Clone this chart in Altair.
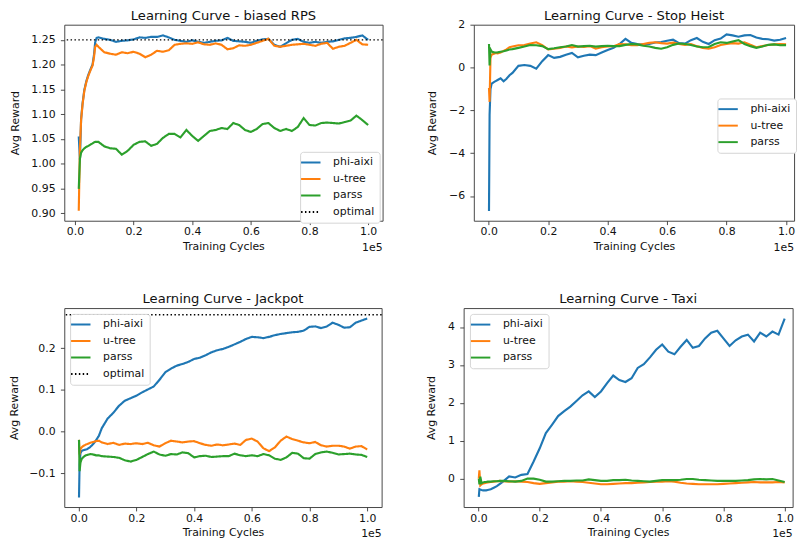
import altair as alt
import pandas as pd

FONT = "DejaVu Sans"
SERIES = ["phi-aixi", "u-tree", "parss"]
COLORS = ["#1f77b4", "#ff7f0e", "#2ca02c"]

X_EARLY_RPS = [1300, 1700, 2100, 2600, 3200, 3900, 4600, 5400, 6000, 6500, 6900, 7400]
X_EARLY = [100, 300, 600, 1000, 1500, 2000, 2500, 3000, 4000, 5000, 6000, 7000]
X_MAIN = [8000, 10000, 12000, 14000, 16000, 18000, 20000, 22000, 24000, 26000,
          28000, 30000, 32000, 34000, 36000, 38000, 40000, 42000, 44000, 46000,
          48000, 50000, 52000, 54000, 56000, 58000, 60000, 62000, 64000, 66000,
          68000, 70000, 72000, 74000, 76000, 78000, 80000, 82000, 84000, 86000,
          88000, 90000, 92000, 94000, 96000, 98000, 100000]
X_TICKS = [0, 20000, 40000, 60000, 80000, 100000]

RPS_PHI = [1.055, 1.008, 1.09, 1.122, 1.149, 1.167, 1.18, 1.192, 1.2, 1.22, 1.245, 1.254,
           1.255, 1.252, 1.250, 1.246, 1.248, 1.249, 1.251, 1.255, 1.254, 1.256,
           1.256, 1.259, 1.255, 1.250, 1.248, 1.246, 1.249, 1.246, 1.244, 1.246,
           1.248, 1.249, 1.254, 1.248, 1.247, 1.246, 1.244, 1.248, 1.251, 1.252,
           1.240, 1.236, 1.243, 1.250, 1.252, 1.246, 1.244, 1.246, 1.244, 1.246,
           1.247, 1.250, 1.253, 1.254, 1.256, 1.259, 1.250]
RPS_UTREE = [0.905, 1.03, 1.088, 1.12, 1.147, 1.165, 1.178, 1.19, 1.198, 1.215, 1.236, 1.240,
             1.236, 1.225, 1.222, 1.220, 1.225, 1.223, 1.226, 1.222, 1.215, 1.220,
             1.228, 1.226, 1.229, 1.240, 1.242, 1.243, 1.242, 1.245, 1.241, 1.240,
             1.243, 1.240, 1.231, 1.233, 1.239, 1.238, 1.240, 1.244, 1.248, 1.252,
             1.238, 1.236, 1.238, 1.240, 1.241, 1.242, 1.240, 1.238, 1.242, 1.244,
             1.232, 1.236, 1.238, 1.244, 1.250, 1.241, 1.240]
RPS_PARSS = [0.949, 1.01, 1.022, 1.027, 1.031, 1.034, 1.036, 1.039, 1.041, 1.043, 1.044, 1.044,
             1.044, 1.035, 1.031, 1.030, 1.018, 1.026, 1.038, 1.044, 1.045, 1.036,
             1.040, 1.052, 1.060, 1.060, 1.053, 1.068, 1.056, 1.046, 1.056, 1.066,
             1.068, 1.072, 1.070, 1.082, 1.078, 1.068, 1.064, 1.070, 1.080, 1.082,
             1.072, 1.066, 1.070, 1.066, 1.074, 1.092, 1.078, 1.077, 1.082, 1.083,
             1.082, 1.081, 1.084, 1.087, 1.097, 1.088, 1.078]
RPS_OPTIMAL = 1.25

HEIST_PHI = [-6.7, -2.2, -1.0, -0.75, -0.7, -0.66, -0.62, -0.58, -0.5, -0.64, -0.52, -0.36,
             -0.25, 0.08, 0.12, 0.08, -0.05, 0.3, 0.58, 0.45, 0.5, 0.6,
             0.68, 0.48, 0.55, 0.6, 0.58, 0.7, 0.82, 0.92, 1.1, 1.34,
             1.15, 1.1, 1.07, 1.10, 1.17, 1.19, 1.25, 1.30, 1.14, 1.12,
             1.28, 1.38, 1.20, 1.10, 1.28, 1.35, 1.55, 1.50, 1.44, 1.50,
             1.52, 1.40, 1.34, 1.32, 1.26, 1.30, 1.38]
HEIST_UTREE = [-0.95, -1.6, 0.45, 0.6, 0.63, 0.66, 0.68, 0.66, 0.7, 0.78, 0.85, 0.95,
               0.98, 1.04, 1.05, 1.12, 1.18, 1.05, 0.85, 0.88, 0.92, 0.98,
               0.94, 0.98, 0.96, 1.0, 0.88, 0.95, 0.98, 1.0, 1.1, 1.08,
               1.05, 1.05, 1.1, 1.15, 1.18, 1.14, 1.12, 1.16, 1.1, 1.06,
               1.1, 1.0, 0.92, 0.88, 0.95, 1.05, 1.1, 1.14, 1.12, 1.18,
               1.06, 0.95, 1.0, 1.05, 1.08, 1.1, 1.08]
HEIST_PARSS = [1.1, 0.1, 0.85, 0.75, 0.72, 0.7, 0.7, 0.71, 0.74, 0.76, 0.8, 0.84,
               0.86, 0.92, 0.98, 1.05, 1.04, 1.0, 0.86, 0.9, 0.95, 0.98,
               1.05, 0.98, 1.0, 1.02, 0.98, 1.0, 1.02, 1.0, 1.0, 1.06,
               1.1, 1.08, 1.02, 0.98, 0.92, 0.88, 0.95, 1.06, 1.12, 1.1,
               1.05, 0.98, 0.95, 0.96, 1.1, 1.18, 1.15, 1.22, 1.28, 1.1,
               1.0, 0.92, 0.98, 1.06, 1.08, 1.04, 1.05]

JACK_PHI = [-0.158, -0.08, -0.052, -0.047, -0.045, -0.044, -0.043, -0.042, -0.037, -0.03, -0.021, -0.01,
            0.008, 0.031, 0.045, 0.062, 0.074, 0.08, 0.086, 0.094, 0.101, 0.108,
            0.124, 0.142, 0.151, 0.158, 0.162, 0.167, 0.174, 0.177, 0.183, 0.19,
            0.195, 0.198, 0.203, 0.209, 0.215, 0.222, 0.227, 0.226, 0.224, 0.227,
            0.231, 0.234, 0.236, 0.238, 0.239, 0.242, 0.251, 0.252, 0.248, 0.252,
            0.261, 0.256, 0.249, 0.25, 0.261, 0.266, 0.271]
JACK_UTREE = [-0.02, -0.055, -0.042, -0.038, -0.035, -0.033, -0.031, -0.03, -0.027, -0.025, -0.023, -0.022,
              -0.026, -0.03, -0.027, -0.032, -0.029, -0.03, -0.028, -0.03, -0.027, -0.033,
              -0.036, -0.028, -0.022, -0.024, -0.026, -0.024, -0.023, -0.028, -0.032, -0.034,
              -0.031, -0.033, -0.031, -0.029, -0.032, -0.02, -0.017, -0.024, -0.04, -0.047,
              -0.038, -0.022, -0.012, -0.018, -0.022, -0.026, -0.028, -0.025, -0.033, -0.036,
              -0.034, -0.034, -0.036, -0.041, -0.036, -0.035, -0.043]
JACK_PARSS = [-0.02, -0.095, -0.075, -0.066, -0.062, -0.059, -0.057, -0.056, -0.054, -0.055, -0.057, -0.057,
              -0.059, -0.06, -0.061, -0.063, -0.069, -0.072, -0.068, -0.061, -0.054, -0.048,
              -0.055, -0.058, -0.054, -0.055, -0.05, -0.052, -0.062, -0.059, -0.058, -0.061,
              -0.06, -0.059, -0.059, -0.053, -0.057, -0.059, -0.057, -0.059, -0.054, -0.057,
              -0.065, -0.068, -0.062, -0.051, -0.053, -0.064, -0.065, -0.054, -0.05, -0.048,
              -0.051, -0.055, -0.054, -0.053, -0.055, -0.056, -0.061]
JACK_OPTIMAL = 0.28

TAXI_PHI = [-0.48, -0.28, -0.29, -0.3, -0.31, -0.31, -0.31, -0.3, -0.28, -0.24, -0.2, -0.14,
            -0.08, 0.06, 0.03, 0.1, 0.12, 0.45, 0.8, 1.2, 1.42, 1.65,
            1.78, 1.9, 2.05, 2.2, 2.3, 2.15, 2.3, 2.52, 2.72, 2.6,
            2.55, 2.65, 2.92, 3.02, 3.2, 3.4, 3.54, 3.35, 3.28, 3.48,
            3.66, 3.45, 3.5, 3.7, 3.85, 3.9, 3.7, 3.5, 3.65, 3.75,
            3.8, 3.62, 3.85, 3.75, 3.88, 3.8, 4.22]
TAXI_UTREE = [0.0, 0.22, -0.18, -0.15, -0.13, -0.12, -0.11, -0.1, -0.09, -0.08, -0.07, -0.06,
              -0.07, -0.08, -0.07, -0.08, -0.09, -0.12, -0.14, -0.12, -0.1, -0.08,
              -0.08, -0.07, -0.08, -0.09, -0.11, -0.13, -0.15, -0.15, -0.14, -0.13,
              -0.12, -0.12, -0.11, -0.1, -0.09, -0.08, -0.08, -0.07, -0.08, -0.11,
              -0.13, -0.14, -0.15, -0.15, -0.15, -0.15, -0.14, -0.13, -0.12, -0.11,
              -0.1, -0.09, -0.1, -0.1, -0.1, -0.09, -0.1]
TAXI_PARSS = [0.0, -0.15, 0.05, -0.12, -0.1, -0.09, -0.09, -0.08, -0.08, -0.07, -0.07, -0.06,
              -0.06, -0.07, -0.08, -0.06, 0.0, 0.0, -0.03, -0.08, -0.08, -0.07,
              -0.06, -0.06, -0.05, -0.05, -0.02, -0.04, -0.06, -0.06, -0.04, -0.04,
              -0.03, -0.05, -0.06, -0.07, -0.08, -0.06, -0.04, -0.04, -0.04, -0.03,
              -0.01, -0.01, -0.03, -0.04, -0.05, -0.06, -0.06, -0.06, -0.06, -0.05,
              -0.04, -0.02, -0.01, -0.02, -0.01, -0.05, -0.09]


def panel(title, xs, phi, ut, pa, xdom, ydom, yvals, yfmt, w, h, lx, ly, ytp, optimal=None):
    rows = []
    for name, vals in zip(SERIES, [phi, ut, pa]):
        for x, v in zip(xs, vals):
            rows.append({"cycles": x, "reward": v, "series": name})
    df = pd.DataFrame(rows)
    names = list(SERIES)
    cols = list(COLORS)
    dashes = [[1, 0], [1, 0], [1, 0]]
    if optimal is not None:
        names.append("optimal")
        cols.append("#000000")
        dashes.append([1.5, 2.5])
    legend = alt.Legend(orient="none", legendX=lx, legendY=ly, title=None,
                        fillColor="white", strokeColor="#d4d4d4", cornerRadius=3,
                        padding=5, rowPadding=5, symbolType="M-2,0L2,0", symbolSize=100,
                        symbolStrokeWidth=2, labelOffset=17, labelFontSize=11.2,
                        labelFont=FONT, labelColor="#111111")
    color = alt.Color("series:N", scale=alt.Scale(domain=names, range=cols), legend=legend)
    xenc = alt.X("cycles:Q", scale=alt.Scale(domain=xdom, nice=False, zero=False),
                 axis=alt.Axis(values=X_TICKS, tickCount=len(X_TICKS),
                               labelExpr="format(datum.value / 100000, '.1f')",
                               title="Training Cycles", labelOverlap=False))
    yenc = alt.Y("reward:Q", scale=alt.Scale(domain=ydom, nice=False, zero=False),
                 axis=alt.Axis(values=yvals, tickCount=len(yvals), format=yfmt,
                               title="Avg Reward", labelOverlap=False, titlePadding=ytp))
    enc = dict(x=xenc, y=yenc, color=color)
    layers = []
    if optimal is not None:
        dash = alt.StrokeDash("series:N", scale=alt.Scale(domain=names, range=dashes), legend=legend)
        enc["strokeDash"] = dash
    layers.append(alt.Chart(df).mark_line(strokeWidth=2.2, clip=True).encode(**enc))
    if optimal is not None:
        odf = pd.DataFrame({"reward": [optimal], "series": ["optimal"]})
        layers.append(alt.Chart(odf).mark_rule(strokeWidth=1.5).encode(
            y=alt.Y("reward:Q"), color=color, strokeDash=dash))
    tdf = pd.DataFrame({"t": ["1e5"]})
    layers.append(alt.Chart(tdf).mark_text(align="right", baseline="alphabetic", fontSize=11.2,
                                           font=FONT, color="#111111").encode(
        text="t:N", x=alt.value(w), y=alt.value(h + 31)))
    hdf = pd.DataFrame({"t": [title]})
    layers.append(alt.Chart(hdf).mark_text(align="center", baseline="alphabetic", fontSize=13.5,
                                           font=FONT, color="#111111").encode(
        text="t:N", x=alt.value(w / 2), y=alt.value(-5)))
    return alt.layer(*layers).properties(width=w, height=h)


def indep(c):
    return c.resolve_scale(color="independent", strokeDash="independent").resolve_legend(
        color="independent", strokeDash="independent")


H1 = 202
H2 = 205
p1 = panel("Learning Curve - biased RPS", X_EARLY_RPS + X_MAIN, RPS_PHI, RPS_UTREE, RPS_PARSS,
           [-3635, 104935], [0.8847, 1.2806], [0.90, 0.95, 1.00, 1.05, 1.10, 1.15, 1.20, 1.25], ".2f",
           328, H1, 243, H1 - 71, 11, optimal=RPS_OPTIMAL)
p2 = panel("Learning Curve - Stop Heist", X_EARLY + X_MAIN, HEIST_PHI, HEIST_UTREE, HEIST_PARSS,
           [-5000, 102700], [-7.15, 2.0], [-6, -4, -2, 0, 2], "d",
           330, H1, 251, H1 / 2 - 25, 11)
p3 = panel("Learning Curve - Jackpot", X_EARLY + X_MAIN, JACK_PHI, JACK_UTREE, JACK_PARSS,
           [-5000, 105000], [-0.181, 0.296], [-0.1, 0.0, 0.1, 0.2], ".1f",
           327, H2, 6, 6, 9.5, optimal=JACK_OPTIMAL)
p4 = panel("Learning Curve - Taxi", X_EARLY + X_MAIN, TAXI_PHI, TAXI_UTREE, TAXI_PARSS,
           [-4850, 102600], [-0.75, 4.5], [0, 1, 2, 3, 4], "d",
           339, H2, 6.5, 6, 11)

row1 = indep(alt.hconcat(p1, p2, spacing=43))
row2 = indep(alt.hconcat(p3, p4, spacing=42.5))
chart = indep(alt.vconcat(row1, row2, spacing=39)).properties(
    padding={"left": 0, "top": -8, "right": 0, "bottom": 0}
).configure_view(stroke="#444444", strokeWidth=1).configure_axis(
    labelFont=FONT, labelFontSize=11.2, labelColor="#111111",
    titleFont=FONT, titleFontSize=11.2, titleFontWeight="normal", titleColor="#111111",
    tickColor="#333333", tickSize=4, tickWidth=0.9, domain=False, grid=False,
    labelOverlap=False, labelFlush=False
).configure_axisX(labelPadding=1.5, titlePadding=4).configure_axisY(labelPadding=5.5)

chart.save("out.html", embed_options={"renderer": "svg", "actions": False})
